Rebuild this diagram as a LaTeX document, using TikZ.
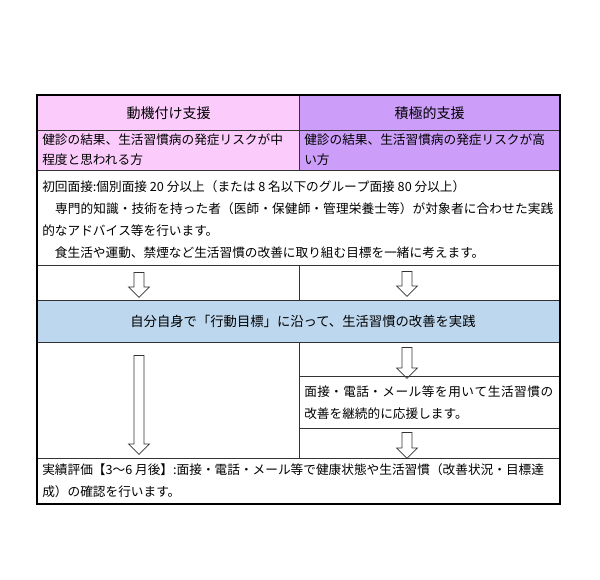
\documentclass[tikz,border=0pt]{standalone}
\usepackage{fontspec}
\setmainfont{Noto Sans CJK JP}
\usepackage{xcolor}
\usepackage{tikz}
\usetikzlibrary{shapes.arrows}
\XeTeXlinebreaklocale "ja"
\XeTeXlinebreakskip=0pt plus 1pt

\definecolor{motivPink}{RGB}{251,204,251}
\definecolor{activePurple}{RGB}{204,158,250}
\definecolor{practiceBlue}{RGB}{189,215,238}

\tikzset{
  celltext/.style={anchor=west, inner sep=0pt, align=left, font=\fontsize{9.5}{16.5}\selectfont},
  headtext/.style={inner sep=0pt, font=\fontsize{10.5}{12}\selectfont},
  gridline/.style={draw=black!80, line width=0.6pt},
  downarrow/.style={single arrow, draw=black!80, line width=0.55pt, rotate=-90, inner xsep=0pt, inner ysep=3.4pt,
    minimum width=15pt, single arrow head extend=4.1pt, single arrow tip angle=90},
}

\begin{document}
\begin{tikzpicture}[x=0.75pt,y=0.75pt,yscale=-1,xscale=1]
\useasboundingbox (0,0) rectangle (600,579);

%Shape: Rectangle [header + risk rows]
\fill [motivPink] (37,95) rectangle (299,170);
\fill [activePurple] (299,95) rectangle (560,170);
%Shape: Rectangle [practice row]
\fill [practiceBlue] (37,300) rectangle (560,342);

%Straight Lines [rows]
\foreach \yy in {130,170,265,300,342,458}
  \draw [gridline] (37,\yy) -- (560,\yy);
%Straight Lines [column divider]
\draw [gridline] (299,95) -- (299,170);
\draw [gridline] (299,265) -- (299,300);
\draw [gridline] (299,342) -- (299,458);
\draw [gridline] (299,376) -- (560,376);
\draw [gridline] (299,428) -- (560,428);
%Shape: Rectangle [outer frame]
\draw [line width=1.5pt] (37,95) rectangle (560,504);

% Text Node
\draw (168.5,113) node (hdrMotiv) [headtext] {動機付け支援};
% Text Node
\draw (429.5,113) node (hdrActive) [headtext] {積極的支援};
% Text Node
\draw (42,150) node (riskMid) [celltext, font=\fontsize{9.5}{15}\selectfont] {健診の結果、生活習慣病の発症リスクが中\\程度と思われる方};
% Text Node
\draw (304,150) node (riskHigh) [celltext, font=\fontsize{9.5}{15}\selectfont] {健診の結果、生活習慣病の発症リスクが高\\い方};
% Text Node
\draw (42,220) node (firstMeet) [celltext, text width=383.25pt, align=justify] {初回面接:個別面接 20 分以上（または 8 名以下のグループ面接 80 分以上）\\
　専門的知識・技術を持った者（医師・保健師・管理栄養士等）が対象者に合わせた実践\linebreak
的なアドバイス等を行います。\\
　食生活や運動、禁煙など生活習慣の改善に取り組む目標を一緒に考えます。};
% Text Node
\draw (303,321) node (practice) [headtext, font=\fontsize{10}{12}\selectfont] {自分自身で「行動目標」に沿って、生活習慣の改善を実践};
% Text Node
\draw (304,403) node (support) [celltext, text width=186.75pt, align=justify] {面接・電話・メール等を用いて生活習慣の\linebreak 改善を継続的に応援します。};
% Text Node
\draw (42,481) node (evaluate) [celltext] {実績評価【3〜6 月後】:面接・電話・メール等で健康状態や生活習慣（改善状況・目標達\\成）の確認を行います。};

%Block Arrows
\draw (139,282.5) node (arrMotivA) [downarrow, minimum height=18.75pt] {};
\draw (407,281.5) node (arrActiveA) [downarrow, minimum height=18.75pt] {};
\draw (407,360.5) node (arrActiveB) [downarrow, minimum height=23.25pt] {};
\draw (407,443) node (arrActiveC) [downarrow, minimum height=19.5pt] {};
\draw (139,402.5) node (arrMotivB) [downarrow, minimum height=74.25pt] {};

\end{tikzpicture}
\end{document}
